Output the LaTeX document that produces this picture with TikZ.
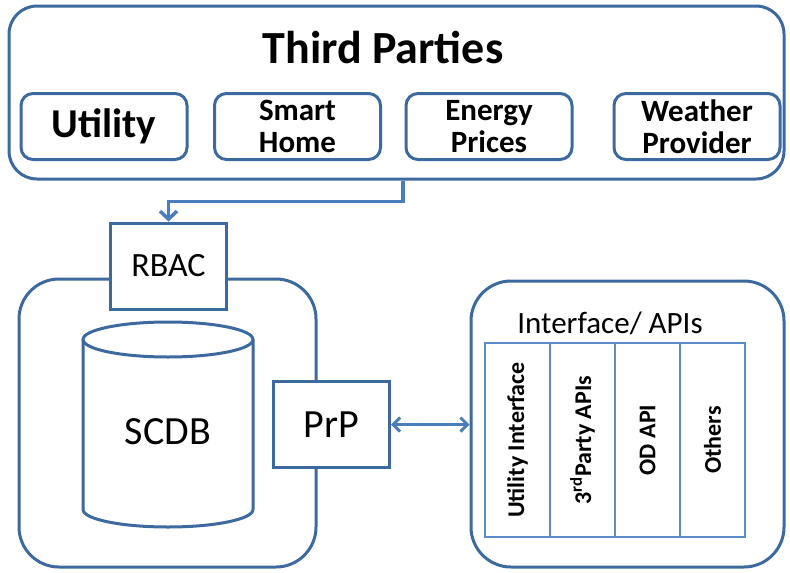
\documentclass[tikz,border=0pt]{standalone}
\usepackage{fontspec}
\setmainfont{Carlito}
\usepackage{tikz}
\usetikzlibrary{arrows,arrows.meta,shapes,positioning}
\definecolor{boxblue}{HTML}{3D6A9E}
\definecolor{linkblue}{HTML}{4A7EBB}
\definecolor{tabblue}{HTML}{5B8BC8}
\tikzstyle{group} = [rectangle, draw=boxblue, line width=3pt, rounded corners=40pt]
\tikzstyle{party} = [rectangle, draw=boxblue, line width=3pt, rounded corners=12pt,
    minimum width=166pt, minimum height=66pt, align=center,
    font=\bfseries\fontsize{31}{32}\selectfont]
\tikzstyle{block} = [rectangle, draw=boxblue, fill=white, line width=3pt,
    minimum width=116pt, minimum height=86pt]
\tikzstyle{apicol} = [rectangle, draw=tabblue, line width=1.8pt, rotate=90,
    minimum width=194pt, minimum height=65pt, inner sep=0pt,
    font=\bfseries\fontsize{24}{26}\selectfont]
\tikzstyle{cyl} = [draw=boxblue, line width=3pt]
\tikzstyle{link} = [draw=linkblue, line width=3.5pt]

\begin{document}
\begin{tikzpicture}[x=1pt, y=-1pt]
  \useasboundingbox (0,0) rectangle (790,573);
  % Place nodes
  \node [group, rounded corners=28pt, minimum width=775pt, minimum height=173pt]
  (parties) at (396.5,92.5) {};
  \node [font=\bfseries\fontsize{46}{50}\selectfont] (title) at (383,47)
  {Third Parties};
  \node [party, font=\bfseries\fontsize{41}{44}\selectfont] (utility) at (104,126.5)
  {Utility};
  \node [party] (home) at (297.5,126.5) {Smart\\Home};
  \node [party] (prices) at (489,126.5) {Energy\\Prices};
  \node [party] (weather) at (697,126.5) {Weather\\Provider};
  \node [group, minimum width=297pt, minimum height=288pt] (store) at (167.5,423) {};
  % database drum
  \draw [cyl] (168,339.5) ellipse [x radius=85pt, y radius=17.5pt];
  \draw [cyl] (83,339.5) -- (83,509.5)
  arc [start angle=180, end angle=360, x radius=85pt, y radius=17.5pt] -- (253,339.5);
  \node [font=\fontsize{40}{44}\selectfont] (scdb) at (168,432) {SCDB};
  \node [block, font=\fontsize{34}{38}\selectfont] (rbac) at (168.5,266) {RBAC};
  \node [block, font=\fontsize{40}{44}\selectfont] (prp) at (331.5,424.5) {PrP};
  \node [group, minimum width=313pt, minimum height=286pt] (iface) at (627.5,424) {};
  \node [font=\fontsize{31}{34}\selectfont] (apis) at (610,323) {Interface/ APIs};
  \node [apicol] (utilapi) at (517.5,440) {Utility Interface};
  \node [apicol] (partyapi) at (582.5,440) {3\textsuperscript{rd}Party APIs};
  \node [apicol] (odapi) at (647.5,440) {OD API};
  \node [apicol] (others) at (712.5,440) {Others};
  % Draw edges
  \draw [link,-{Straight Barb[length=8pt,width=17pt]}]
  ([xshift=6.5pt]parties.south) -- ++(0,21) -| (rbac.north);
  \draw [link,line width=3pt,{Straight Barb[length=7pt,width=14pt]}-{Straight Barb[length=7pt,width=14pt]}]
  (prp.east) -- (prp.east -| iface.west);
\end{tikzpicture}
\end{document}
